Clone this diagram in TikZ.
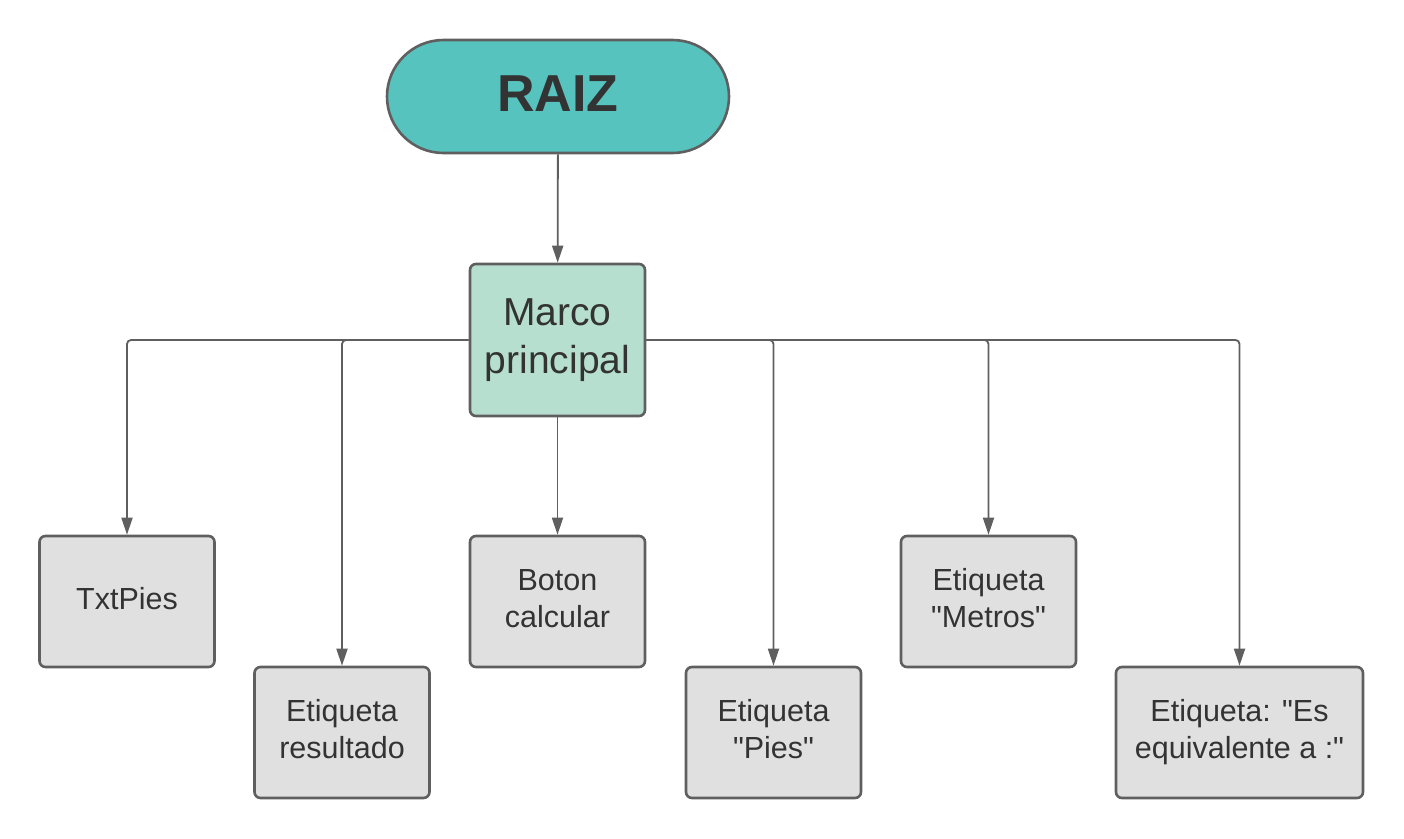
\documentclass[tikz,border=0pt]{standalone}
\usepackage{fontspec}
\setmainfont{Liberation Sans}[Ligatures=TeXOff]
\usetikzlibrary{arrows.meta,shapes.misc}
\definecolor{linec}{HTML}{5F5F5F}
\definecolor{txtc}{HTML}{333333}
\definecolor{raizc}{HTML}{57C3BF}
\definecolor{marcoc}{HTML}{B6DFD0}
\definecolor{greyc}{HTML}{E0E0E0}
\tikzset{
  base/.style={draw=linec, line width=2.6pt, text=txtc, align=center, inner sep=0pt},
  leafbox/.style={base, fill=greyc, rounded corners=6pt, minimum width=175pt, minimum height=131pt, text depth=7pt, font=\fontsize{30.5}{37}\selectfont},
  marcobox/.style={base, fill=marcoc, rounded corners=6pt, minimum width=175pt, minimum height=152pt, font=\fontsize{39}{48}\selectfont},
  raizbox/.style={base, fill=raizc, rounded rectangle, minimum width=342pt, minimum height=113pt, text height=38pt, text depth=8pt, font=\fontsize{52}{60}\selectfont\bfseries},
  conn/.style={draw=linec, line width=1.8pt, rounded corners=4pt, -{Triangle[length=17pt,width=11pt]}},
}
\begin{document}
\begin{tikzpicture}[x=1pt,y=-1pt]
\useasboundingbox (0,0) rectangle (1404,838);
\node[raizbox] (raiz) at (558,96.5) {RAIZ};
\node[marcobox] (marco) at (557.5,340) {Marco\\principal};
\node[leafbox] (txt) at (127,601.5) {TxtPies};
\node[leafbox] (res) at (342,732.5) {Etiqueta\\resultado};
\node[leafbox] (bot) at (557.5,601.5) {Boton\\calcular};
\node[leafbox] (pies) at (773.5,732.5) {Etiqueta\\"Pies"};
\node[leafbox] (met) at (988.5,601.5) {Etiqueta\\"Metros"};
\node[leafbox, minimum width=247pt] (es) at (1239.5,732.5) {Etiqueta: "Es\\equivalente a :"};
\draw[conn] (raiz) -- (marco);
\draw[conn] (marco) -- (bot);
\draw[conn] (marco.west) -| (txt.north);
\draw[conn] (marco.west) -| (res.north);
\draw[conn] (marco.east) -| (pies.north);
\draw[conn] (marco.east) -| (met.north);
\draw[conn] (marco.east) -| (es.north);
\end{tikzpicture}
\end{document}
